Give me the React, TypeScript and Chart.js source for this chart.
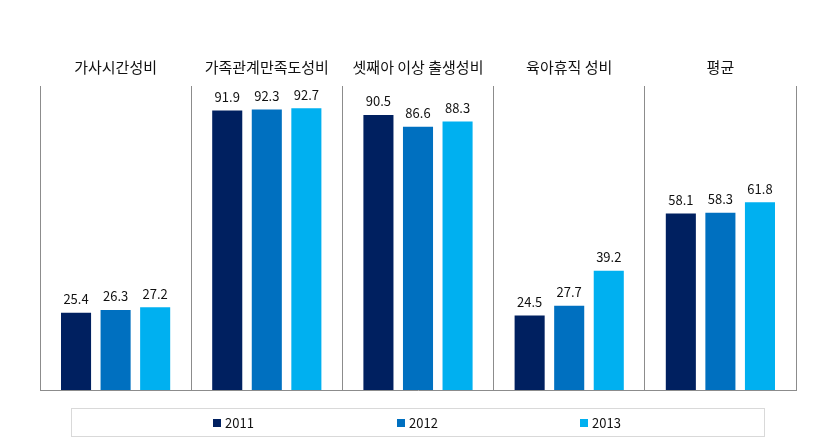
import React, { useEffect, useRef } from "react";
import { Chart, registerables } from "chart.js";

Chart.register(...registerables);

const categories = ["가사시간성비", "가족관계만족도성비", "셋째아 이상 출생성비", "육아휴직 성비", "평균"];
const seriesNames = ["2011", "2012", "2013"];
const values2011 = [25.4, 91.9, 90.5, 24.5, 58.1];
const values2012 = [26.3, 92.3, 86.6, 27.7, 58.3];
const values2013 = [27.2, 92.7, 88.3, 39.2, 61.8];
const colors = ["#002060", "#0070C0", "#00B0F0"];

const FONT = "'Noto Sans CJK KR', 'Noto Sans', sans-serif";

const valueLabels = {
  id: "valueLabels",
  afterDatasetsDraw(chart: any) {
    const ctx = chart.ctx;
    ctx.save();
    ctx.font = `13px ${FONT}`;
    ctx.fillStyle = "#111";
    ctx.textAlign = "center";
    ctx.textBaseline = "bottom";
    chart.data.datasets.forEach((ds: any, i: number) => {
      const meta = chart.getDatasetMeta(i);
      meta.data.forEach((el: any, j: number) => {
        ctx.fillText(ds.data[j].toFixed(1), el.x, el.y - 7);
      });
    });
    ctx.restore();
  },
};

export default function App() {
  const ref = useRef<HTMLCanvasElement | null>(null);
  useEffect(() => {
    if (!ref.current) return;
    const chart = new Chart(ref.current, {
      type: "bar",
      data: {
        labels: categories,
        datasets: [values2011, values2012, values2013].map((d, i) => ({
          label: seriesNames[i],
          data: d,
          backgroundColor: colors[i],
          borderWidth: 0,
          xAxisID: "x",
          yAxisID: "y",
          categoryPercentage: 0.785,
          barPercentage: 0.76,
        })),
      },
      options: {
        animation: false,
        responsive: false,
        maintainAspectRatio: false,
        layout: { padding: { left: 40, right: 25, top: 48, bottom: 52 } },
        plugins: { legend: { display: false }, tooltip: { enabled: false } },
        scales: {
          x: {
            type: "category",
            position: "top",
            grid: { offset: true, color: "#8c8c8c", drawTicks: false, lineWidth: 1 },
            border: { display: false },
            ticks: { font: { size: 15, family: FONT }, color: "#111", padding: 10, maxRotation: 0 },
          },
          x2: {
            type: "category",
            position: "bottom",
            grid: { display: false, drawTicks: false },
            border: { display: true, color: "#8c8c8c", width: 1 },
            ticks: { display: false },
          },
          y: {
            display: false,
            min: 0,
            max: 100,
          },
        },
      },
      plugins: [valueLabels],
    });
    return () => chart.destroy();
  }, []);

  const legendPos = [213, 397, 580];
  return (
    <div style={{ position: "fixed", left: 0, top: 0, width: 821, height: 442, background: "#fff" }}>
      <canvas ref={ref} width={821} height={442} style={{ display: "block", width: 821, height: 442 }} />
      <div
        style={{
          position: "absolute",
          left: 71,
          top: 408,
          width: 692,
          height: 27,
          border: "1px solid #d9d9d9",
        }}
      />
      {seriesNames.map((n, i) => (
        <div
          key={n}
          style={{
            position: "absolute",
            left: legendPos[i],
            top: 413,
            height: 19,
            display: "flex",
            alignItems: "center",
            fontFamily: FONT,
            fontSize: 13,
            color: "#111",
          }}
        >
          <span style={{ display: "inline-block", width: 8, height: 8, background: colors[i], marginRight: 4 }} />
          <span>{n}</span>
        </div>
      ))}
    </div>
  );
}
